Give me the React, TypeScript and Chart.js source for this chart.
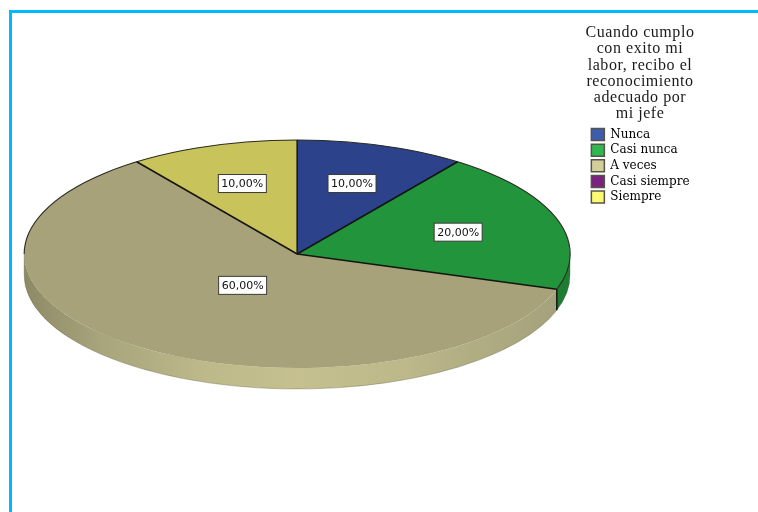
import React, { useEffect, useRef } from "react";
import { Chart, registerables } from "chart.js";

Chart.register(...registerables);

const categories = ["Nunca", "Casi nunca", "A veces", "Casi siempre", "Siempre"];
const percentages = [10, 20, 60, 0, 10];
const sliceColors = ["#2c438c", "#22943c", "#a7a279", "#6f1f75", "#c8c35b"];
const legendColors = ["#3d5cae", "#2fb84f", "#d4cf98", "#7b2180", "#fbf873"];
const wallColors = ["#233670", "#1d7d33", "#c2bd8c", "#5a1a60", "#a9a54c"];
const labelRadii = [0.65, 0.62, 0.34, 0.5, 0.65];
const titleLines = [
  "Cuando cumplo",
  "con exito mi",
  "labor, recibo el",
  "reconocimiento",
  "adecuado por",
  "mi jefe",
];

const RX = 273;
const RY = 114;
const DEPTH = 21;

const piePlugin = {
  id: "squashedPie",
  beforeDatasetsDraw(chart: any) {
    const { ctx } = chart;
    const arcs = chart.getDatasetMeta(0).data;
    const cx = arcs[0].x;
    const cy = arcs[0].y;
    ctx.save();
    arcs.forEach((arc: any, i: number) => {
      const a = Math.max(arc.startAngle, 0);
      const b = Math.min(arc.endAngle, Math.PI);
      if (b <= a) return;
      ctx.beginPath();
      ctx.ellipse(cx, cy, RX, RY, 0, a, b);
      ctx.ellipse(cx, cy + DEPTH, RX, RY, 0, b, a, true);
      ctx.closePath();
      if (i === 2) {
        const g = ctx.createLinearGradient(cx - RX, 0, cx + RX, 0);
        g.addColorStop(0, "#8d8a66");
        g.addColorStop(0.14, "#a8a47c");
        g.addColorStop(0.33, "#bdb98a");
        g.addColorStop(0.5, "#c5c08e");
        g.addColorStop(0.7, "#bcb88a");
        g.addColorStop(0.88, "#aca880");
        g.addColorStop(1, "#a3a07a");
        ctx.fillStyle = g;
      } else {
        ctx.fillStyle = wallColors[i];
      }
      ctx.fill();
    });
    ctx.restore();
    ctx.save();
    ctx.translate(cx, cy);
    ctx.scale(RX / RY, 1);
    ctx.translate(-cx, -cy);
  },
  afterDatasetsDraw(chart: any) {
    const { ctx } = chart;
    ctx.restore();
    const arcs = chart.getDatasetMeta(0).data;
    const cx = arcs[0].x;
    const cy = arcs[0].y;
    ctx.save();
    ctx.strokeStyle = "#2a2a20";
    ctx.lineWidth = 1.1;
    ctx.beginPath();
    ctx.ellipse(cx, cy, RX, RY, 0, Math.PI, Math.PI * 2.1);
    ctx.stroke();
    ctx.strokeStyle = "rgba(90,88,60,0.35)";
    ctx.lineWidth = 1;
    ctx.beginPath();
    ctx.ellipse(cx, cy + DEPTH, RX, RY, 0, 0.05, Math.PI);
    ctx.lineTo(cx - RX, cy);
    ctx.stroke();
    ctx.strokeStyle = "#141410";
    ctx.lineWidth = 1.5;
    arcs.forEach((arc: any) => {
      if (arc.endAngle - arc.startAngle <= 0) return;
      ctx.beginPath();
      ctx.moveTo(cx, cy);
      ctx.lineTo(cx + RX * Math.cos(arc.startAngle), cy + RY * Math.sin(arc.startAngle));
      ctx.stroke();
    });
    const cut = arcs[2].startAngle;
    const ex = cx + RX * Math.cos(cut);
    const ey = cy + RY * Math.sin(cut);
    ctx.beginPath();
    ctx.moveTo(ex, ey);
    ctx.lineTo(ex, ey + DEPTH);
    ctx.stroke();
    ctx.font = "11px 'DejaVu Sans'";
    ctx.textAlign = "center";
    ctx.textBaseline = "middle";
    arcs.forEach((arc: any, i: number) => {
      const v = percentages[i];
      if (!v) return;
      const mid = (arc.startAngle + arc.endAngle) / 2;
      const x = cx + RX * labelRadii[i] * Math.cos(mid);
      const y = cy + RY * labelRadii[i] * Math.sin(mid);
      const text = v.toFixed(2).replace(".", ",") + "%";
      ctx.fillStyle = "#ffffff";
      ctx.strokeStyle = "#3a3a3a";
      ctx.lineWidth = 1;
      ctx.fillRect(x - 24, y - 9, 48, 18);
      ctx.strokeRect(x - 24, y - 9, 48, 18);
      ctx.fillStyle = "#111111";
      ctx.fillText(text, x, y + 0.5);
    });
    ctx.restore();
  },
  afterDraw(chart: any) {
    const { ctx } = chart;
    ctx.save();
    ctx.font = "16px 'Liberation Serif'";
    ctx.letterSpacing = "0.55px";
    ctx.fillStyle = "#1a1a1a";
    ctx.textAlign = "center";
    ctx.textBaseline = "middle";
    titleLines.forEach((line, i) => ctx.fillText(line, 640, 33 + i * 16.2));
    ctx.restore();
  },
};

export default function App() {
  const ref = useRef<HTMLCanvasElement>(null);
  useEffect(() => {
    const chart = new Chart(ref.current as HTMLCanvasElement, {
      type: "pie",
      data: {
        labels: categories,
        datasets: [
          {
            data: percentages,
            backgroundColor: sliceColors,
            borderWidth: 0,
            radius: RY,
          },
        ],
      },
      options: {
        responsive: false,
        animation: false,
        layout: { padding: { left: 6.6, right: 58.5, top: 125, bottom: 129 } },
        plugins: {
          tooltip: { enabled: false },
          title: { display: false },
          legend: {
            display: true,
            position: "right",
            align: "start",
            labels: {
              boxWidth: 13,
              boxHeight: 12,
              padding: 3.6,
              color: "#1a1a1a",
              font: { family: "'DejaVu Serif'", size: 12 },
              generateLabels: () =>
                categories.map((text, i) => ({
                  text,
                  fillStyle: legendColors[i],
                  strokeStyle: "#55534a",
                  lineWidth: 1.5,
                  index: i,
                })),
            },
          },
        },
      },
      plugins: [piePlugin],
    } as any);
    return () => chart.destroy();
  }, []);
  return (
    <div style={{ position: "fixed", left: 0, top: 0, width: 758, height: 512, overflow: "hidden", background: "#fff" }}>
      <div
        style={{
          position: "absolute",
          left: 9,
          top: 10,
          width: 749,
          height: 502,
          boxSizing: "border-box",
          borderTop: "3px solid #00b8ff",
          borderLeft: "3px solid #00b8ff",
        }}
      />
      <canvas ref={ref} width={758} height={512} style={{ position: "absolute", left: 0, top: 0, display: "block" }} />
    </div>
  );
}
